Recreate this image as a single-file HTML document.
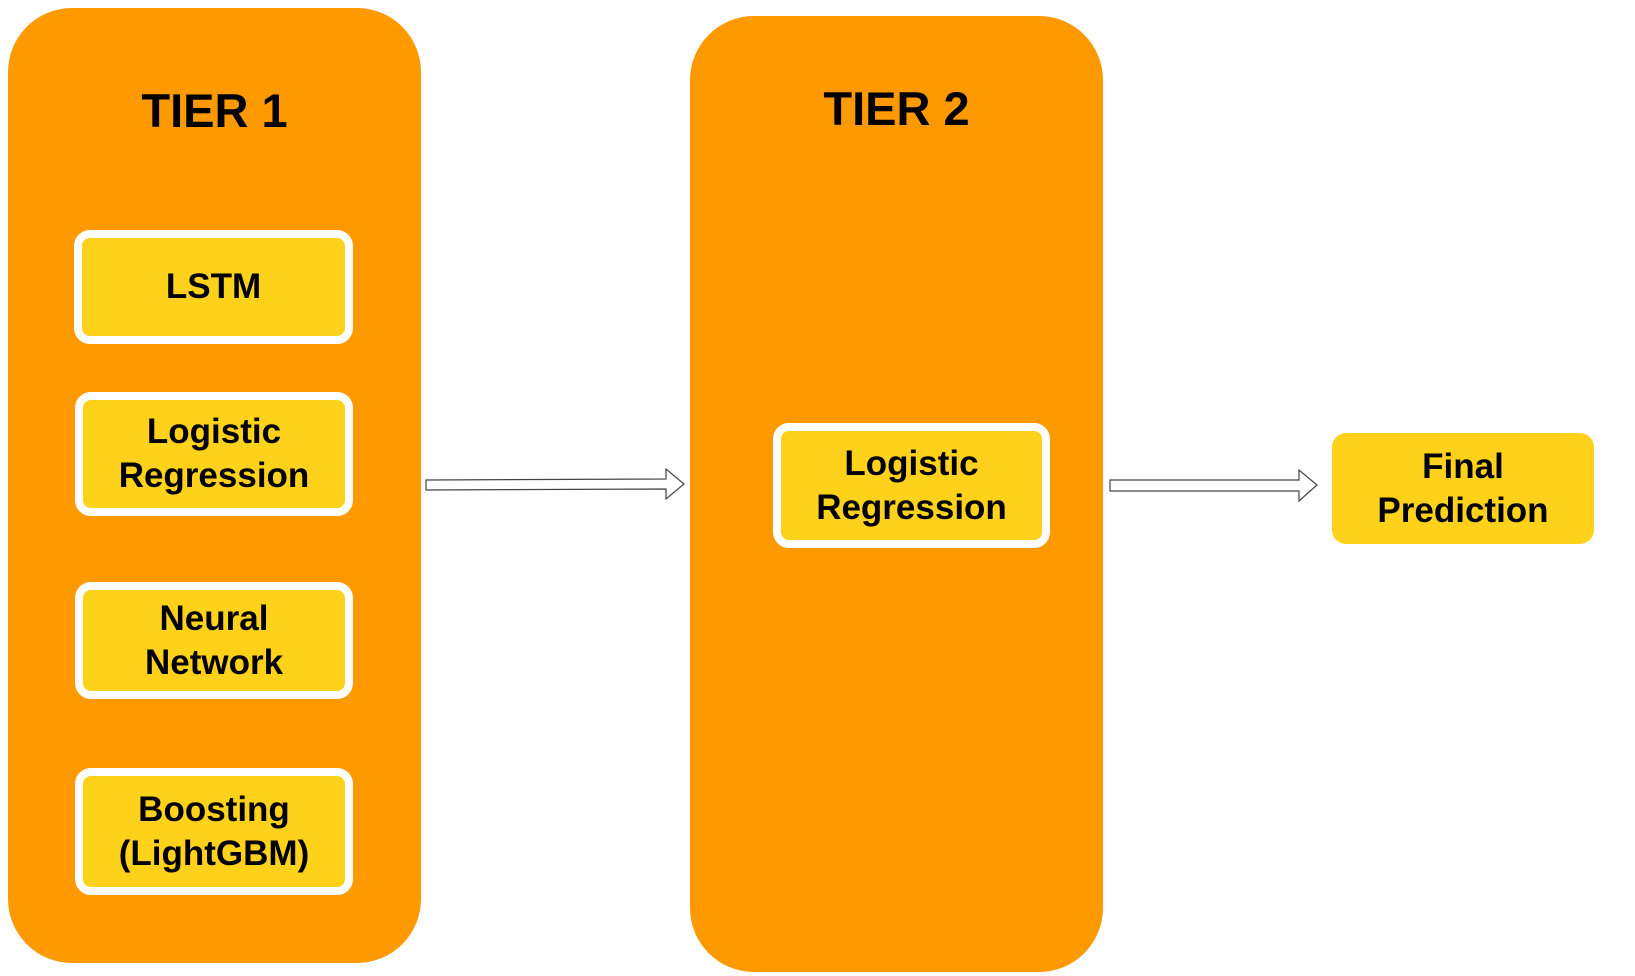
<!DOCTYPE html>
<html><head><style>
body{margin:0;width:1635px;height:976px;background:#fff;position:relative;font-family:"Liberation Sans",sans-serif;overflow:hidden}
.tier{position:absolute;background:#fe9a00;border-radius:64px}
.t{position:absolute;font-weight:bold;font-size:47px;text-align:center;width:100%;line-height:1}
.box{position:absolute;box-sizing:border-box;background:#fed11a;border:8px solid #fff;border-radius:16px;display:flex;align-items:center;justify-content:center;text-align:center;font-weight:bold;font-size:35px;line-height:44px;color:#000}
</style></head><body>
<div class="tier" style="left:8px;top:8px;width:413px;height:955px"><div class="t" style="top:79px">TIER 1</div></div>
<div class="tier" style="left:690px;top:16px;width:413px;height:956px"><div class="t" style="top:69px">TIER 2</div></div>
<div class="box" style="left:74px;top:230px;width:279px;height:114px">LSTM</div>
<div class="box" style="left:75px;top:392px;width:278px;height:124px">Logistic<br>Regression</div>
<div class="box" style="left:75px;top:582px;width:278px;height:117px">Neural<br>Network</div>
<div class="box" style="left:75px;top:768px;width:278px;height:127px">Boosting<br>(LightGBM)</div>
<div class="box" style="left:773px;top:423px;width:277px;height:125px">Logistic<br>Regression</div>
<div class="box" style="left:1332px;top:433px;width:262px;height:111px;border:none;border-radius:14px">Final<br>Prediction</div>
<svg width="1635" height="976" style="position:absolute;left:0;top:0">
<polygon points="426,480 666,479 666,469 684,484 666,499 666,489 426,490" fill="#fff" stroke="#444" stroke-width="1.2"/>
<polygon points="1110,480 1299,480 1299,470 1317,485 1299,501 1299,491 1110,491" fill="#fff" stroke="#444" stroke-width="1.2"/>
</svg>
</body></html>
